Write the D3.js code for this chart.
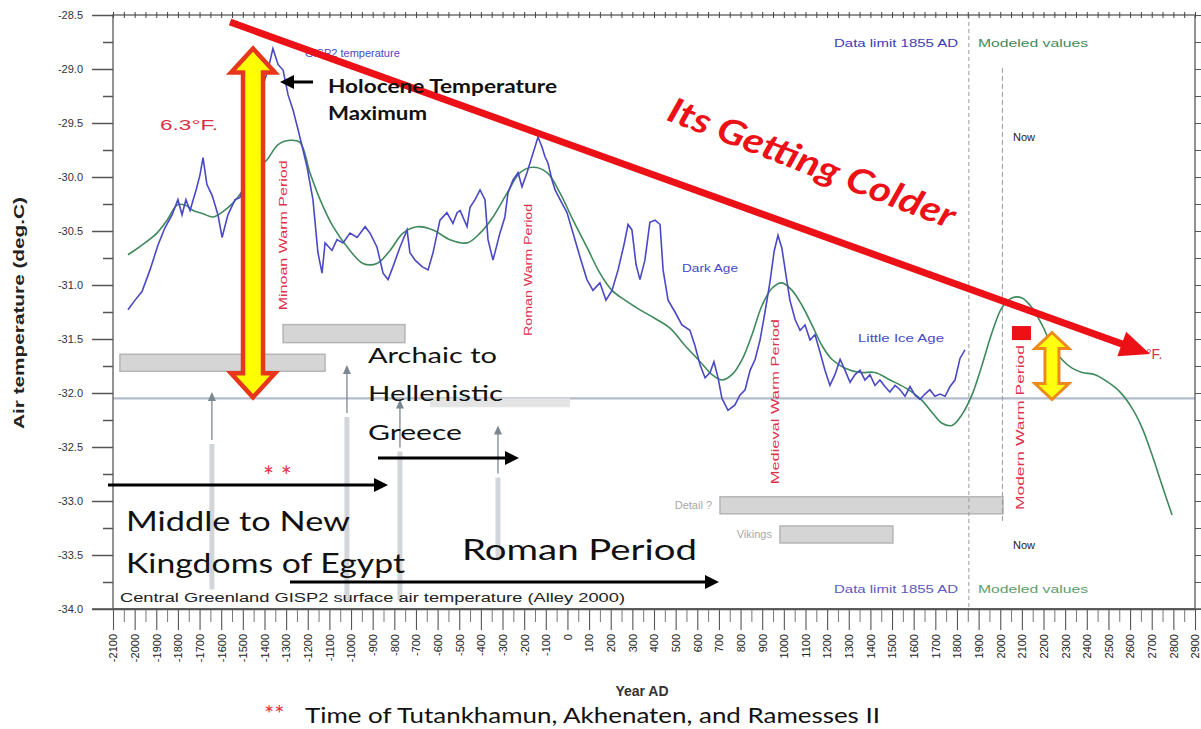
<!DOCTYPE html>
<html><head><meta charset="utf-8">
<script src="https://cdn.jsdelivr.net/npm/d3@7/dist/d3.min.js"></script>
<style>html,body{margin:0;padding:0;background:#fff;}svg{display:block;}</style>
</head><body>
<svg id="chart" width="1201" height="729"></svg>
<script>
// ---------------- DATA ----------------
const gispYears = [-2031,-1998,-1966,-1929,-1892,-1860,-1827,-1800,-1781,-1763,
-1744,-1716,-1698,-1684,-1666,-1642,-1615,-1596,-1569,-1536,
-1513,-1476,-1439,-1407,-1384,-1361,-1337,-1314,-1291,-1268,
-1245,-1222,-1203,-1176,-1153,-1134,-1120,-1088,-1065,-1037,
-1005,-972,-935,-912,-880,-852,-829,-806,-774,-741,
-728,-704,-672,-644,-621,-589,-557,-529,-510,-496,
-464,-450,-427,-404,-381,-367,-344,-312,-289,-275,
-252,-228,-210,-187,-159,-136,-118,-104,-90,-71,
-57,-34,-2,26,58,90,118,150,178,206,
234,261,280,298,317,335,358,381,405,428,
442,465,497,529,566,589,613,636,659,677,
696,714,742,774,797,821,844,867,890,913,
936,955,973,991,1010,1028,1052,1075,1098,1121,
1144,1167,1190,1213,1236,1260,1283,1306,1329,1352,
1375,1398,1421,1444,1467,1490,1514,1537,1560,1583,
1606,1629,1652,1675,1698,1722,1745,1768,1791,1814,
1837];
const gispTemps = [-31.23,-31.14,-31.06,-30.86,-30.63,-30.47,-30.35,-30.21,-30.35,-30.21,
-30.31,-30.12,-29.98,-29.82,-30.07,-30.17,-30.35,-30.56,-30.35,-30.21,
-30.19,-29.94,-29.47,-29.15,-29.01,-28.81,-28.96,-29.01,-29.24,-29.38,
-29.56,-29.75,-29.91,-30.21,-30.70,-30.89,-30.61,-30.68,-30.58,-30.61,
-30.52,-30.56,-30.46,-30.52,-30.65,-30.89,-30.95,-30.83,-30.65,-30.49,
-30.70,-30.77,-30.83,-30.86,-30.70,-30.40,-30.33,-30.43,-30.33,-30.31,
-30.46,-30.28,-30.21,-30.12,-30.21,-30.58,-30.77,-30.52,-30.37,-30.15,
-30.03,-29.96,-30.09,-29.96,-29.78,-29.63,-29.72,-29.81,-29.87,-30.03,
-30.12,-30.21,-30.33,-30.52,-30.74,-30.95,-31.05,-30.98,-31.14,-31.05,
-30.86,-30.63,-30.44,-30.49,-30.81,-30.95,-30.77,-30.42,-30.40,-30.44,
-30.86,-31.14,-31.25,-31.37,-31.42,-31.56,-31.74,-31.86,-31.81,-31.71,
-31.86,-32.05,-32.16,-32.11,-32.02,-31.97,-31.79,-31.69,-31.51,-31.25,
-30.97,-30.69,-30.54,-30.66,-30.91,-31.14,-31.32,-31.42,-31.37,-31.51,
-31.46,-31.62,-31.79,-31.93,-31.83,-31.69,-31.79,-31.90,-31.83,-31.79,
-31.88,-31.83,-31.93,-31.88,-31.94,-31.99,-31.93,-31.97,-32.03,-31.94,
-32.02,-32.06,-32.01,-31.97,-32.03,-32.01,-32.03,-31.94,-31.88,-31.68,
-31.60];

const modelYears = [-2031,-2008,-1952,-1897,-1850,-1804,-1767,-1730,-1684,-1638,
-1592,-1545,-1499,-1444,-1388,-1337,-1282,-1236,-1190,-1143,
-1083,-1005,-945,-880,-820,-760,-695,-621,-543,-464,
-404,-344,-279,-219,-159,-94,-34,26,90,150,
206,266,335,405,474,543,613,668,714,760,
807,853,899,945,991,1038,1084,1130,1176,1223,
1283,1352,1421,1491,1560,1629,1685,1731,1777,1823,
1869,1916,1962,2008,2054,2101,2147,2193,2239,2285,
2332,2378,2438,2498,2553,2609,2655,2701,2747,2794];
const modelTemps = [-30.72,-30.69,-30.61,-30.52,-30.40,-30.26,-30.26,-30.31,-30.34,-30.37,
-30.32,-30.24,-30.12,-29.95,-29.84,-29.70,-29.66,-29.68,-29.96,-30.21,
-30.46,-30.68,-30.80,-30.80,-30.68,-30.52,-30.46,-30.49,-30.58,-30.61,
-30.52,-30.37,-30.15,-29.96,-29.91,-29.96,-30.15,-30.40,-30.65,-30.89,
-31.05,-31.14,-31.23,-31.31,-31.40,-31.56,-31.71,-31.83,-31.88,-31.83,
-31.69,-31.46,-31.19,-31.03,-30.98,-31.05,-31.19,-31.37,-31.56,-31.69,
-31.77,-31.81,-31.81,-31.88,-31.95,-32.05,-32.18,-32.28,-32.30,-32.20,
-32.02,-31.74,-31.44,-31.21,-31.12,-31.12,-31.21,-31.37,-31.56,-31.69,
-31.77,-31.81,-31.83,-31.90,-31.99,-32.14,-32.32,-32.57,-32.85,-33.13];

const yMajorTicks = [-28.5,-29.0,-29.5,-30.0,-30.5,-31.0,-31.5,-32.0,-32.5,-33.0,-33.5,-34.0];
const yMinorTicks = [-28.75,-29.25,-29.75,-30.25,-30.75,-31.25,-31.75,-32.25,-32.75,-33.25,-33.75];
const xTickYears = d3.range(-2100, 2901, 100);
const xMinorYears = d3.range(-2050, 2900, 100);

const referenceTemp = -32.05;
const dataLimitYear = 1855;
const nowYear = 2010;

// period bars (start year, end year, centre temperature)
const barStart = [-2068, -1314, -635, 705, 982];
const barEnd   = [-1120, -751, 12, 2013, 1504];
const barTemp  = [-31.72, -31.45, -32.09, -33.04, -33.31];
const barLabels = ["", "", "", "Detail ?", "Vikings"];

// event markers (year, top temp, bottom temp)
const markerYears = [-1643, -1019, -774, -321];
const markerTop = [-31.99, -31.74, -32.06, -32.30];
const markerBottom = [-33.82, -33.92, -33.92, -33.55];

// warm periods (year, centre temp)
const warmNames = ["Minoan Warm Period", "Roman Warm Period", "Medieval Warm Period", "Modern Warm Period"];
const warmYears = [-1314, -182, 959, 2091];
const warmTemps = [-30.54, -30.86, -32.08, -32.32];

// ---------------- CHART ----------------
const svg = d3.select("#chart");
const x = d3.scaleLinear().domain([-2100, 2900]).range([113, 1195]);
const y = d3.scaleLinear().domain([-34, -28.5]).range([609, 15]);
const SANS = "'Liberation Sans', Arial, sans-serif";
const CAL = "Lato, 'Open Sans', sans-serif";

// reference line
svg.append("line").attr("x1", x(-2100)).attr("x2", x(2900))
  .attr("y1", y(referenceTemp)).attr("y2", y(referenceTemp))
  .attr("stroke", "#b3bdcc").attr("stroke-width", 2.2);

// event markers (faint grey arrows)
markerYears.forEach((yr, i) => {
  const xx = x(yr), t = y(markerTop[i]), b = y(markerBottom[i]);
  svg.append("line").attr("x1", xx).attr("x2", xx).attr("y1", t + 52).attr("y2", b)
    .attr("stroke", "#d2d6da").attr("stroke-width", 5);
  svg.append("line").attr("x1", xx).attr("x2", xx).attr("y1", t + 4).attr("y2", t + 48)
    .attr("stroke", "#7c8690").attr("stroke-width", 1.3);
  svg.append("path").attr("d", `M${xx},${t} L${xx-4},${t+9} L${xx+4},${t+9} Z`).attr("fill", "#7c8690");
});

// period bars
barStart.forEach((s, i) => {
  const h = i === 2 ? 9 : (i === 1 ? 18 : 17);
  svg.append("rect").attr("x", x(s)).attr("width", x(barEnd[i]) - x(s))
    .attr("y", y(barTemp[i]) - h / 2).attr("height", h)
    .attr("fill", i === 2 ? "#e4e4e4" : "#d5d5d5")
    .attr("stroke", i === 2 ? "none" : "#b5b5b5").attr("stroke-width", 1.5);
  if (barLabels[i]) {
    svg.append("text").attr("x", x(s) - 8).attr("y", y(barTemp[i]) + 4)
      .attr("text-anchor", "end").attr("font-family", SANS).attr("font-size", 11)
      .attr("fill", "#a8a8a8").text(barLabels[i]);
  }
});

// dashed verticals
svg.append("line").attr("x1", x(dataLimitYear)).attr("x2", x(dataLimitYear))
  .attr("y1", y(-28.5)).attr("y2", y(-34)).attr("stroke", "#9a9a9a")
  .attr("stroke-dasharray", "4,3").attr("stroke-width", 1);
svg.append("line").attr("x1", x(nowYear)).attr("x2", x(nowYear))
  .attr("y1", y(-28.99)).attr("y2", y(-33.2)).attr("stroke", "#9a9a9a")
  .attr("stroke-dasharray", "5,3").attr("stroke-width", 1);

// frame
svg.append("rect").attr("x", 113).attr("y", 15).attr("width", 1082).attr("height", 594)
  .attr("fill", "none").attr("stroke", "#666").attr("stroke-width", 1.4);

// Y axis
const gy = svg.append("g").attr("transform", "translate(113,0)")
  .call(d3.axisLeft(y).tickValues(yMajorTicks).tickSize(21).tickPadding(9).tickSizeOuter(0)
    .tickFormat(d => d.toFixed(1)));
gy.select(".domain").remove();
gy.selectAll("line").attr("stroke", "#555").attr("stroke-width", 1.5);
gy.selectAll("text").attr("font-family", SANS).attr("font-size", 11).attr("fill", "#333");
const gym = svg.append("g").attr("transform", "translate(113,0)")
  .call(d3.axisLeft(y).tickValues(yMinorTicks).tickSize(10).tickFormat(""));
gym.select(".domain").remove();
gym.selectAll("line").attr("stroke", "#555").attr("stroke-width", 1.5);

// right ticks
const gr = svg.append("g").attr("transform", "translate(1195,0)")
  .call(d3.axisRight(y).tickValues(yMajorTicks.concat(yMinorTicks)).tickSize(6).tickFormat(""));
gr.select(".domain").remove();
gr.selectAll("line").attr("stroke", "#555");

// top ticks
const gt = svg.append("g").attr("transform", "translate(0,15)")
  .call(d3.axisTop(x).tickValues(d3.range(-2100, 2901, 50)).tickSize(3).tickFormat(""));
gt.select(".domain").remove();
gt.selectAll("line").attr("stroke", "#444").attr("y2", -3).attr("y1", 3);

// X axis
const gx = svg.append("g").attr("transform", "translate(0,609)")
  .call(d3.axisBottom(x).tickValues(xTickYears).tickSize(21).tickSizeOuter(0).tickFormat(d => String(d)));
gx.select(".domain").attr("stroke", "#555").attr("stroke-width", 1.4);
gx.selectAll("line").attr("stroke", "#555").attr("stroke-width", 1.1);
gx.selectAll("text").attr("font-family", SANS).attr("font-size", 11).attr("fill", "#222")
  .attr("transform", "rotate(-90)").attr("text-anchor", "end")
  .attr("x", -25).attr("y", 0).attr("dy", "0.35em");
const gxm = svg.append("g").attr("transform", "translate(0,609)")
  .call(d3.axisBottom(x).tickValues(xMinorYears).tickSize(13).tickFormat(""));
gxm.select(".domain").remove();
gxm.selectAll("line").attr("stroke", "#777").attr("stroke-width", 1);
svg.append("line").attr("x1", 92).attr("x2", 1201).attr("y1", 609).attr("y2", 609)
  .attr("stroke", "#555").attr("stroke-width", 1.4);

// axis titles
svg.append("text").attr("transform", "translate(24,313) rotate(-90)")
  .attr("text-anchor", "middle").attr("font-family", SANS).attr("font-size", 15)
  .attr("font-weight", "bold").attr("fill", "#222")
  .attr("textLength", 232).attr("lengthAdjust", "spacingAndGlyphs")
  .text("Air temperature (deg.C)");
svg.append("text").attr("x", 642).attr("y", 696).attr("text-anchor", "middle")
  .attr("font-family", SANS).attr("font-size", 14).attr("font-weight", "bold")
  .attr("fill", "#333").text("Year AD");

// lines
const gispData = d3.zip(gispYears, gispTemps);
const modelData = d3.zip(modelYears, modelTemps);
svg.append("path").datum(modelData)
  .attr("d", d3.line().x(d => x(d[0])).y(d => y(d[1])).curve(d3.curveCatmullRom.alpha(0.5)))
  .attr("fill", "none").attr("stroke", "#3f8a5c").attr("stroke-width", 1.6);
svg.append("path").datum(gispData)
  .attr("d", d3.line().x(d => x(d[0])).y(d => y(d[1])))
  .attr("fill", "none").attr("stroke", "#4a48c4").attr("stroke-width", 1.6);

// chart texts
function txt(px, py, s, opt) {
  const t = svg.append("text").attr("x", px).attr("y", py)
    .attr("font-family", opt.family || SANS).attr("font-size", opt.size || 11)
    .attr("fill", opt.fill || "#222").text(s);
  if (opt.anchor) t.attr("text-anchor", opt.anchor);
  if (opt.weight) t.attr("font-weight", opt.weight);
  if (opt.len) t.attr("textLength", opt.len).attr("lengthAdjust", "spacingAndGlyphs");
  if (opt.style) t.attr("font-style", opt.style);
  return t;
}
txt(305, 57, "GISP2 temperature", {fill: "#4a48c4", size: 11});
txt(958, 47, "Data limit 1855 AD", {fill: "#3c3cb8", anchor: "end", len: 124});
txt(978, 47, "Modeled values", {fill: "#3f8a5c", len: 110});
txt(958, 593, "Data limit 1855 AD", {fill: "#5a5ac0", anchor: "end", len: 124});
txt(978, 593, "Modeled values", {fill: "#5aa070", len: 110});
txt(1013, 141, "Now", {fill: "#222"});
txt(1013, 549, "Now", {fill: "#222"});
txt(682, 272, "Dark Age", {fill: "#4a48c4", len: 56});
txt(858, 342, "Little Ice Age", {fill: "#4a48c4", len: 86});
txt(120, 602, "Central Greenland GISP2 surface air temperature (Alley 2000)", {fill: "#222", size: 12, len: 505});

warmNames.forEach((n, i) => {
  svg.append("text").attr("transform", `translate(${x(warmYears[i]) + 4},${y(warmTemps[i])}) rotate(-90)`)
    .attr("text-anchor", "middle").attr("font-family", SANS).attr("font-size", 11)
    .attr("fill", "#e0304c").attr("textLength", [150, 132, 165, 165][i]).attr("lengthAdjust", "spacingAndGlyphs")
    .text(n);
});

// ---------------- ANNOTATIONS ----------------
txt(1146, 359, "°F.", {fill: "#d83048", size: 14});
txt(160, 130, "6.3°F.", {fill: "#d83048", size: 15, len: 58});

// red trend arrow
const tx0 = x(-1559), ty0 = y(-28.565), tx1 = x(2692), ty1 = y(-31.64);
const ang = Math.atan2(ty1 - ty0, tx1 - tx0);
const cdx = Math.cos(ang), cdy = Math.sin(ang);
svg.append("line").attr("x1", tx0).attr("y1", ty0)
  .attr("x2", tx1 - cdx * 22).attr("y2", ty1 - cdy * 22)
  .attr("stroke", "#ec1017").attr("stroke-width", 7);
{
  const L = 30, Hh = 13, bx = tx1 - cdx * L, by = ty1 - cdy * L;
  svg.append("path").attr("d", `M${tx1},${ty1} L${bx - cdy * Hh},${by + cdx * Hh} L${bx + cdy * Hh},${by - cdx * Hh} Z`)
    .attr("fill", "#ec1017");
}
svg.append("text").attr("transform", "translate(812,163) rotate(21)")
  .attr("text-anchor", "middle").attr("dy", "0.35em")
  .attr("font-family", CAL).attr("font-size", 35).attr("font-weight", "bold").attr("font-style", "italic")
  .attr("fill", "#ec1017").attr("textLength", 305).attr("lengthAdjust", "spacingAndGlyphs")
  .text("Its Getting Colder");

// yellow double arrows
function dblArrow(cx, yt, yb, sw, hw, hl, fill, stroke, strokeW) {
  const p = [[cx, yt], [cx + hw / 2, yt + hl], [cx + sw / 2, yt + hl], [cx + sw / 2, yb - hl], [cx + hw / 2, yb - hl],
    [cx, yb], [cx - hw / 2, yb - hl], [cx - sw / 2, yb - hl], [cx - sw / 2, yt + hl], [cx - hw / 2, yt + hl]];
  svg.append("path").attr("d", "M" + p.map(d => d.join(",")).join("L") + "Z")
    .attr("fill", fill).attr("stroke", stroke).attr("stroke-width", strokeW).attr("stroke-linejoin", "miter");
}
dblArrow(x(-1453), y(-28.81), y(-32.04), 20, 44, 24, "#ffff00", "#e8361c", 4.5);
dblArrow(x(2239), y(-31.44), y(-32.06), 14, 34, 16, "#ffff10", "#ec8a1e", 3);

// red block
svg.append("rect").attr("x", x(2054)).attr("width", x(2142) - x(2054))
  .attr("y", y(-31.38)).attr("height", y(-31.51) - y(-31.38)).attr("fill", "#ec1017");

// black arrows
function blackArrow(x0, y0, x1, y1, w) {
  const a = Math.atan2(y1 - y0, x1 - x0), dx = Math.cos(a), dy = Math.sin(a);
  const L = 14, Hh = 7;
  svg.append("line").attr("x1", x0).attr("y1", y0).attr("x2", x1 - dx * L * 0.6).attr("y2", y1 - dy * L * 0.6)
    .attr("stroke", "#000").attr("stroke-width", w);
  const bx = x1 - dx * L, by = y1 - dy * L;
  svg.append("path").attr("d", `M${x1},${y1} L${bx - dy * Hh},${by + dx * Hh} L${bx + dy * Hh},${by - dx * Hh} Z`).attr("fill", "#000");
}
blackArrow(313, 82, 280, 82, 3);
blackArrow(378, 458, 519, 458, 3.2);
blackArrow(108, 485, 388, 485, 3.2);
blackArrow(290, 582, 719, 582, 3.2);

// big annotation texts
txt(328, 93, "Holocene Temperature", {family: CAL, size: 18, weight: "bold", fill: "#111", len: 229});
txt(328, 120, "Maximum", {family: CAL, size: 18, weight: "bold", fill: "#111", len: 99});
txt(368, 363, "Archaic to", {family: CAL, size: 22, fill: "#111", len: 129});
txt(368, 401, "Hellenistic", {family: CAL, size: 22, fill: "#111", len: 135});
txt(368, 440, "Greece", {family: CAL, size: 22, fill: "#111", len: 94});
txt(126, 531, "Middle to New", {family: CAL, size: 27, fill: "#111", len: 224});
txt(126, 573, "Kingdoms of Egypt", {family: CAL, size: 27, fill: "#111", len: 279});
txt(462, 560, "Roman Period", {family: CAL, size: 28, fill: "#111", len: 235});
txt(263, 486, "* *", {family: CAL, size: 26, fill: "#e8304c"});
txt(264, 722, "**", {family: CAL, size: 24, fill: "#e8304c"});
txt(305, 723, "Time of Tutankhamun, Akhenaten, and Ramesses II", {family: CAL, size: 22, fill: "#111", len: 575});
</script>
</body></html>
